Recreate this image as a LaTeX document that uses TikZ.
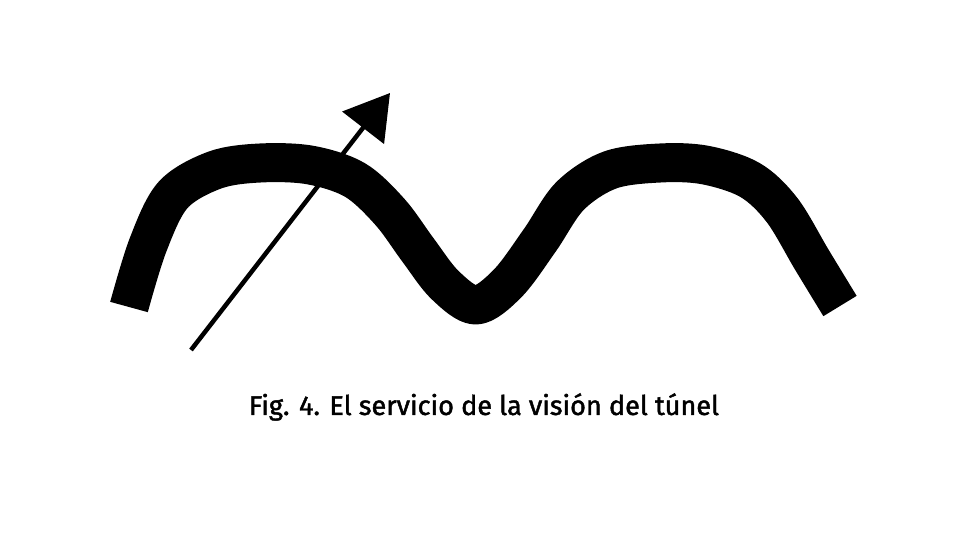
\documentclass[tikz,border=0pt]{standalone}
\usepackage{fontspec}
\setmainfont[FakeBold=1.6]{Fira Sans}
\usetikzlibrary{arrows.meta}
\begin{document}
\begin{tikzpicture}[x=1pt,y=-1pt,
  band/.style={line width=39pt, line cap=butt, line join=round, black},
  arrowline/.style={line width=4.5pt, -{Triangle[length=44pt,width=52pt]}},
  caption/.style={inner sep=0pt, anchor=center}]
\useasboundingbox (0,0) rectangle (960,540);
\draw[band] plot[smooth, tension=0.55] coordinates {
  (129,307) (148,245) (173,195) (215,170) (260,163) (310,165) (355,180)
  (390,212) (418,250) (445,285) (476,305) (508,283) (540,240) (570,196)
  (610,170) (660,163) (705,165) (750,180) (782,210) (812,260) (840,306)};
\coordinate (tail) at (191,350);
\coordinate (tip) at (390,93);
\draw[arrowline] (tail) -- (tip);
\node[caption] (cap) at (484,407) {\resizebox{470pt}{!}{Fig. 4. El servicio de la visión del túnel}};
\end{tikzpicture}
\end{document}
